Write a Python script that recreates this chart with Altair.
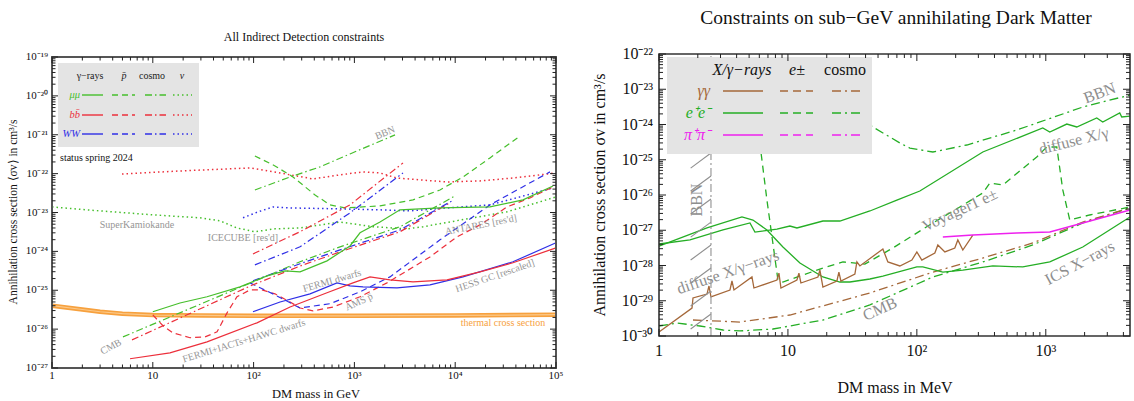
import altair as alt
import pandas as pd

SERIF = "Liberation Serif"
GREEN_L, RED_L, BLUE_L = "#46bf2c", "#ec2f3b", "#2f2fe6"
ORANGE = "#f7a13e"
GREEN_R, BROWN_R, MAG_R = "#25ae25", "#a5683a", "#ee22ee"
GRAY_T = "#959595"

# ================= LEFT PANEL (DM mass in GeV, <sigma v> in cm^3/s) =================
L_THERMAL_M = [1, 2, 3, 5, 10, 30, 100, 1000, 10000, 100000]
L_THERMAL_S = [4.0e-26, 3.2e-26, 2.8e-26, 2.5e-26, 2.3e-26, 2.25e-26, 2.2e-26, 2.2e-26, 2.25e-26, 2.35e-26]

L_NU_MUMU_M = [1, 3, 10, 29.4, 46.4, 68.4, 103, 163, 289, 720, 1530, 3325, 4795, 15020, 32660, 100000]
L_NU_MUMU_S = [1.39e-23, 1.10e-23, 8.7e-24, 7.3e-24, 6.1e-24, 4.0e-24, 3.2e-24, 3.8e-24, 4.0e-24, 5.7e-24,
               4.3e-24, 3.8e-24, 4.3e-24, 7.3e-24, 1.04e-23, 2.52e-23]
L_NU_BB_M = [4.95, 18.6, 92, 183, 388, 720, 1217, 1795, 2648, 8293, 17620, 37440, 100000]
L_NU_BB_S = [9.8e-23, 1.17e-22, 1.40e-22, 1.04e-22, 7.3e-23, 9.3e-23, 1.11e-22, 1.04e-22, 7.7e-23, 6.1e-23,
             6.5e-23, 7.7e-23, 1.04e-22]
L_NU_WW_M = [78.5, 111, 156, 230, 720, 1795, 3563, 8293, 22130, 43950, 93330]
L_NU_WW_S = [7.3e-24, 1.04e-23, 1.39e-23, 1.31e-23, 1.24e-23, 1.17e-23, 1.10e-23, 1.31e-23, 1.57e-23, 2.52e-23, 4.3e-23]

L_PB_MUMU_M = [103, 163, 246, 407, 573, 807, 1795, 3814, 7066, 11950, 22130, 43950]
L_PB_MUMU_S = [2.85e-22, 1.58e-22, 8.2e-23, 2.83e-23, 1.57e-23, 1.31e-23, 1.48e-23, 2.11e-23, 3.8e-23, 8.2e-23,
               2.54e-22, 9.3e-22]
L_PB_BB_M = [10, 12.6, 15.9, 23.4, 33, 43.4, 54.5, 68.4, 92, 121, 163, 230, 289, 388, 614, 1137, 2104, 5620,
             10420, 17620, 32660, 55210, 93330]
L_PB_BB_S = [2.33e-26, 1.22e-26, 8.0e-27, 6.0e-27, 6.3e-27, 8.5e-27, 2.62e-26, 6.8e-26, 1.02e-25, 1.02e-25,
             8.1e-26, 5.0e-26, 3.5e-26, 2.95e-26, 3.7e-26, 6.8e-26, 1.55e-25, 7.2e-25, 2.36e-24, 4.8e-24,
             1.39e-23, 2.37e-23, 4.55e-23]
L_PB_WW_M = [92, 163, 289, 573, 1137, 2254, 7066, 22130, 87100]
L_PB_WW_S = [1.55e-25, 7.6e-26, 3.5e-26, 4.5e-26, 9.1e-26, 2.21e-25, 1.98e-24, 1.57e-23, 1.11e-22]

L_BBN_MUMU_M = [103, 230, 456, 904, 2529]
L_BBN_MUMU_S = [3.8e-23, 8.2e-23, 1.49e-22, 3.21e-22, 9.9e-22]
L_CMB_MUMU_M = [5.06, 98.6, 289, 720, 2834, 9955]
L_CMB_MUMU_S = [6.3e-27, 1.64e-25, 5.4e-25, 1.31e-24, 4.3e-24, 2.67e-23]
L_CMB_BB_M = [6.22, 98.6, 289, 720, 2834, 8877]
L_CMB_BB_S = [5.3e-27, 1.38e-25, 4.2e-25, 9.7e-25, 3.2e-24, 1.77e-23]
L_CMB_WW_M = [98.6, 289, 720, 2834, 9290]
L_CMB_WW_S = [1.75e-25, 4.8e-25, 1.09e-24, 3.57e-24, 1.99e-23]
L_DD_BB_M = [98.6, 289, 904, 3034]
L_DD_BB_S = [8.6e-25, 3.2e-24, 1.57e-23, 1.88e-22]
L_DD_WW_M = [103, 289, 904, 3034]
L_DD_WW_S = [4.5e-25, 1.31e-24, 9.8e-24, 1.04e-22]

L_G_MUMU_M = [10, 18.6, 34.5, 73.3, 136, 205, 289, 535, 904, 1137, 1795, 2834, 7066, 22130, 47080, 93330]
L_G_MUMU_S = [2.79e-26, 4.7e-26, 6.8e-26, 1.22e-25, 2.34e-25, 3.15e-25, 2.97e-25, 5.7e-25, 1.38e-24, 3.0e-24,
              5.7e-24, 1.17e-23, 1.31e-23, 1.39e-23, 2.11e-23, 4.8e-23]
L_G_WW_M = [98.6, 183, 363, 672, 904, 1217, 2648, 5620, 11950, 37440, 100000]
L_G_WW_S = [2.79e-26, 5.0e-26, 8.1e-26, 1.55e-25, 1.30e-25, 1.22e-25, 1.15e-25, 1.38e-25, 2.21e-25, 5.4e-25, 1.66e-24]
L_G_BB_M = [5.94, 14.8, 34.5, 108, 230, 535, 968, 1429, 2254, 3814, 8293, 17620, 37440, 100000]
L_G_BB_S = [1.73e-27, 2.46e-27, 4.7e-27, 1.45e-26, 3.7e-26, 8.6e-26, 1.55e-25, 2.21e-25, 1.85e-25, 1.64e-25,
            1.85e-25, 2.97e-25, 5.1e-25, 1.23e-24]

L_ANN_TEXT = ["BBN", "SuperKamiokande", "ICECUBE [res'd]", "ANTARES [res'd]", "FERMI dwarfs", "AMS p\u0304",
              "HESS GC [rescaled]", "CMB", "FERMI+IACTs+HAWC dwarfs"]
L_ANN_M = [2014, 6.97, 78.5, 18030, 600, 1111, 24830, 3.85, 80.3]
L_ANN_S = [1.11e-21, 4.8e-24, 2.22e-24, 4.8e-24, 1.75e-25, 5.0e-26, 2.34e-25, 3.5e-27, 5.0e-27]
L_ANN_ANGLE = [338, 0, 0, 349, 344, 335, 341, 332, 343]
L_THERMAL_TEXT, L_THERMAL_TM, L_THERMAL_TS = "thermal cross section", 29800, 1.45e-26

L_X_TICKS = [1, 10, 100, 1000, 10000, 100000]
L_X_LABELS = ["1", "10", "10\u00b2", "10\u00b3", "10\u2074", "10\u2075"]
L_Y_TICKS = [1e-19, 1e-20, 1e-21, 1e-22, 1e-23, 1e-24, 1e-25, 1e-26, 1e-27]
L_Y_LABELS = ["10\u207b\u00b9\u2079", "10\u207b\u00b2\u2070", "10\u207b\u00b2\u00b9", "10\u207b\u00b2\u00b2",
              "10\u207b\u00b2\u00b3", "10\u207b\u00b2\u2074", "10\u207b\u00b2\u2075", "10\u207b\u00b2\u2076",
              "10\u207b\u00b2\u2077"]
L_X_MINOR = [k * 10 ** e for e in range(0, 5) for k in range(2, 10)]
L_Y_MINOR = [k * 10.0 ** e for e in range(-27, -19) for k in range(2, 10)]

# ================= RIGHT PANEL (DM mass in MeV) =================
R_X_EE1_M = [1, 1.739, 3.134, 5.076, 5.548, 8.217, 10.36, 11.74, 18.68, 25.30, 43.23, 69.98, 105.5, 324.8,
             947.8, 1074, 1455, 1739, 2485, 2766, 3747, 3883, 4500]
R_X_EE1_S = [4.07e-28, 5.3e-28, 1.02e-27, 1.61e-27, 8.9e-28, 1.08e-27, 1.32e-27, 1.16e-27, 1.83e-27, 1.83e-27,
             3.52e-27, 7.2e-27, 1.30e-26, 1.66e-25, 7.96e-25, 6.12e-25, 1.03e-24, 8.5e-25, 1.53e-24, 1.18e-24,
             2.12e-24, 1.63e-24, 1.74e-24]
R_X_EE2_M = [1, 2.356, 4.400, 5.354, 6.874, 9.147, 12.39, 18.68, 25.30, 30.24, 43.23, 54.51, 100, 111.3, 159.1,
             227.3, 388.2, 663.3, 1074, 1936, 4500]
R_X_EE2_S = [3.57e-28, 1.16e-27, 2.38e-27, 1.95e-27, 1.02e-27, 3.35e-28, 1.18e-28, 4.72e-29, 3.40e-29, 3.40e-29,
             4.14e-29, 5.0e-29, 9.1e-29, 9.1e-29, 6.5e-29, 7.4e-29, 9.7e-29, 9.1e-29, 1.26e-28, 3.35e-28, 2.38e-27]
R_E_EE_M = [5.750, 6.176, 6.874, 8.365, 9.147, 18.68, 26.70, 39.54, 65.16, 133.1, 215.4, 324.8, 368.1, 464.2,
            851.4, 1018, 1217, 1355, 1535, 2193, 4500]
R_E_EE_S = [1.53e-24, 1.66e-25, 7.2e-27, 3.88e-29, 3.40e-29, 8.5e-29, 1.26e-28, 1.10e-28, 3.14e-28, 1.61e-27,
            4.57e-27, 1.14e-26, 2.19e-26, 1.92e-26, 1.20e-25, 2.30e-25, 2.30e-25, 1.39e-26, 1.95e-27, 2.71e-27,
            4.57e-27]
R_BBN_EE_M = [36.15, 45.61, 73.82, 88.26, 133.1, 244.1, 596.0, 1936, 4500]
R_BBN_EE_S = [1.53e-24, 8.5e-25, 2.99e-25, 2.15e-25, 1.66e-25, 2.62e-25, 6.98e-25, 3.13e-24, 6.87e-24]
R_CMB_EE_M = [1, 1.379, 2.078, 3.134, 4.246, 7.651, 18.68, 43.23, 133.1, 324.8, 792.9, 1936, 4500]
R_CMB_EE_S = [1.92e-30, 2.34e-30, 1.92e-30, 1.48e-30, 1.39e-30, 1.58e-30, 2.84e-30, 7.6e-30, 4.72e-29, 1.26e-28,
              3.82e-28, 1.61e-27, 4.28e-27]
R_CMB_GG_M = [1.835, 4.246, 10.36, 43.23, 133.1, 324.8, 792.9, 1936, 4500]
R_CMB_GG_S = [2.84e-30, 2.49e-30, 3.94e-30, 1.66e-29, 6.5e-29, 1.63e-28, 4.35e-28, 1.71e-27, 4.28e-27]
R_X_GG_M = [1, 1.803, 1.835, 2.356, 2.441, 2.530, 3.551, 3.681, 3.815, 5.261, 5.449, 8.217, 8.516, 8.826,
            11.74, 12.17, 12.61, 17.09, 17.70, 18.68, 23.98, 24.85, 25.76, 33.07, 34.27, 36.15, 54.51, 59.6,
            73.82, 91.5, 100, 109.3, 137.9, 145.5, 164.9, 197.0, 207.9, 227.3, 271.8]
R_X_GG_S = [1.30e-30, 6.2e-30, 1.20e-29, 1.55e-29, 2.62e-29, 1.28e-29, 2.02e-29, 3.63e-29, 2.02e-29, 4.72e-29,
            2.30e-29, 3.88e-29, 6.1e-29, 2.30e-29, 3.88e-29, 6.1e-29, 3.19e-29, 4.72e-29, 7.4e-29, 2.45e-29,
            3.63e-29, 6.5e-29, 3.63e-29, 5.7e-29, 1.26e-28, 9.7e-29, 2.94e-28, 1.26e-28, 9.7e-29, 1.43e-28,
            2.42e-28, 1.43e-28, 2.26e-28, 3.82e-28, 2.42e-28, 3.14e-28, 5.3e-28, 2.75e-28, 7.3e-28]
R_X_PIPI_M = [159.1, 271.8, 596.0, 1074, 1936, 4500]
R_X_PIPI_S = [6.4e-28, 7.3e-28, 8.4e-28, 8.9e-28, 1.61e-27, 3.75e-27]

R_BBN_EDGE = 2.53
R_HATCH_M1, R_HATCH_M2 = 1.76, 2.53
R_HATCH_S1 = [2.6e-25, 5.8e-26, 1.30e-26, 2.89e-27, 6.4e-28, 1.43e-28, 3.19e-29, 7.1e-30, 1.58e-30]
R_HATCH_S2 = [6.9e-25, 1.55e-25, 3.46e-26, 7.7e-27, 1.70e-27, 3.80e-28, 8.5e-29, 1.89e-29, 4.2e-30]

R_ANN_TEXT = ["BBN", "diffuse X/\u03b3\u2212rays", "Voyager1 e\u00b1", "diffuse X/\u03b3", "BBN", "CMB",
              "ICS X\u2212rays"]
R_ANN_M = [1.971, 3.43, 215.4, 1648, 2623, 51.7, 1835]
R_ANN_S = [7.2e-27, 6.5e-29, 3.75e-27, 3.40e-25, 7.8e-24, 5.8e-30, 1.18e-28]
R_ANN_ANGLE = [270, 341, 335, 346, 340, 336, 332]

R_X_TICKS = [1, 10, 100, 1000]
R_X_LABELS = ["1", "10", "10\u00b2", "10\u00b3"]
R_Y_TICKS = [1e-22, 1e-23, 1e-24, 1e-25, 1e-26, 1e-27, 1e-28, 1e-29, 1e-30]
R_Y_LABELS = ["10\u207b\u00b2\u00b2", "10\u207b\u00b2\u00b3", "10\u207b\u00b2\u2074", "10\u207b\u00b2\u2075",
              "10\u207b\u00b2\u2076", "10\u207b\u00b2\u2077", "10\u207b\u00b2\u2078", "10\u207b\u00b2\u2079",
              "10\u207b\u00b3\u2070"]
R_X_MINOR = [k * 10 ** e for e in range(0, 4) for k in range(2, 10) if k * 10 ** e < 4500]
R_Y_MINOR = [k * 10.0 ** e for e in range(-30, -22) for k in range(2, 10)]

# ================= scales =================
SXL = alt.Scale(type="log", domain=[1, 1e5], range=[52, 556], nice=False)
SYL = alt.Scale(type="log", domain=[1e-27, 1e-19], range=[368, 57], nice=False)
SXR = alt.Scale(type="log", domain=[1, 4500], range=[659, 1130], nice=False)
SYR = alt.Scale(type="log", domain=[1e-30, 1e-22], range=[336, 54], nice=False)

ONE = pd.DataFrame({"k": [0]})


def series(m, s, xs, ys, color, dash=None, width=1.2):
    df = pd.DataFrame({"m": m, "s": s, "o": list(range(len(m)))})
    kw = dict(color=color, strokeWidth=width)
    if dash:
        kw["strokeDash"] = dash
    return alt.Chart(df).mark_line(**kw).encode(
        x=alt.X("m:Q", scale=xs, axis=None),
        y=alt.Y("s:Q", scale=ys, axis=None),
        order="o:Q")


def ptext(t, x, y, size, color="#000000", angle=0, align="center", baseline="middle", style="normal"):
    kw = dict(text=t, fontSize=size, color=color, align=align, baseline=baseline, font=SERIF, fontStyle=style)
    if angle:
        kw["angle"] = angle
    return alt.Chart(ONE).mark_text(**kw).encode(x=alt.value(x), y=alt.value(y))


def prule(x1, x2, y, color, dash=None, width=1.2):
    kw = dict(color=color, strokeWidth=width)
    if dash:
        kw["strokeDash"] = dash
    return alt.Chart(ONE).mark_rule(**kw).encode(x=alt.value(x1), x2=alt.value(x2), y=alt.value(y))


def prect(x1, x2, y1, y2, fill=None, stroke=None, sw=0):
    kw = dict(strokeWidth=sw)
    kw["fill"] = fill if fill else "transparent"
    if stroke:
        kw["stroke"] = stroke
    return alt.Chart(ONE).mark_rect(**kw).encode(x=alt.value(x1), x2=alt.value(x2), y=alt.value(y1),
                                                 y2=alt.value(y2))


def xticks(vals, xs, y0, ln, color, w=1):
    df = pd.DataFrame({"v": vals})
    return alt.Chart(df).mark_rule(color=color, strokeWidth=w).encode(
        x=alt.X("v:Q", scale=xs, axis=None), y=alt.value(y0), y2=alt.value(y0 + ln))


def yticks(vals, ys, x0, ln, color, w=1):
    df = pd.DataFrame({"v": vals})
    return alt.Chart(df).mark_rule(color=color, strokeWidth=w).encode(
        y=alt.Y("v:Q", scale=ys, axis=None), x=alt.value(x0), x2=alt.value(x0 + ln))


def ann(texts, ms, ss, angles, xs, ys, color, size):
    df = pd.DataFrame({"t": texts, "m": ms, "s": ss, "a": angles})
    return alt.Chart(df).mark_text(font=SERIF, fontSize=size, color=color).encode(
        x=alt.X("m:Q", scale=xs, axis=None), y=alt.Y("s:Q", scale=ys, axis=None),
        text="t:N", angle=alt.Angle("a:Q", scale=None))


# ---- left dash styles
DL, DDL, DOL = [6, 4], [7, 3, 1.5, 3], [1.5, 3]
L = []
L.append(series(L_THERMAL_M, L_THERMAL_S, SXL, SYL, ORANGE, width=4.5))
L.append(series(L_THERMAL_M, L_THERMAL_S, SXL, SYL, "#fbc98a", width=1.2))
L.append(series(L_NU_MUMU_M, L_NU_MUMU_S, SXL, SYL, GREEN_L, DOL, 1.5))
L.append(series(L_NU_BB_M, L_NU_BB_S, SXL, SYL, RED_L, DOL, 1.5))
L.append(series(L_NU_WW_M, L_NU_WW_S, SXL, SYL, BLUE_L, DOL, 1.5))
L.append(series(L_PB_MUMU_M, L_PB_MUMU_S, SXL, SYL, GREEN_L, DL))
L.append(series(L_PB_BB_M, L_PB_BB_S, SXL, SYL, RED_L, DL))
L.append(series(L_PB_WW_M, L_PB_WW_S, SXL, SYL, BLUE_L, DL))
L.append(series(L_BBN_MUMU_M, L_BBN_MUMU_S, SXL, SYL, GREEN_L, DDL))
L.append(series(L_CMB_MUMU_M, L_CMB_MUMU_S, SXL, SYL, GREEN_L, DDL))
L.append(series(L_CMB_BB_M, L_CMB_BB_S, SXL, SYL, RED_L, DDL))
L.append(series(L_CMB_WW_M, L_CMB_WW_S, SXL, SYL, BLUE_L, DDL))
L.append(series(L_DD_BB_M, L_DD_BB_S, SXL, SYL, RED_L, DDL))
L.append(series(L_DD_WW_M, L_DD_WW_S, SXL, SYL, BLUE_L, DDL))
L.append(series(L_G_MUMU_M, L_G_MUMU_S, SXL, SYL, GREEN_L))
L.append(series(L_G_WW_M, L_G_WW_S, SXL, SYL, BLUE_L))
L.append(series(L_G_BB_M, L_G_BB_S, SXL, SYL, RED_L))
L.append(ann(L_ANN_TEXT, L_ANN_M, L_ANN_S, L_ANN_ANGLE, SXL, SYL, GRAY_T, 10))
L.append(ann([L_THERMAL_TEXT], [L_THERMAL_TM], [L_THERMAL_TS], [0], SXL, SYL, ORANGE, 10))
# frame + inward ticks
TC = "#222222"
L.append(prect(52, 556, 57, 368, stroke="#555555", sw=2))
for vals, ln in ((L_X_TICKS, 6), (L_X_MINOR, 3.5)):
    L.append(xticks(vals, SXL, 368, -ln, TC))
    L.append(xticks(vals, SXL, 57, ln, TC))
for vals, ln in ((L_Y_TICKS, 6), (L_Y_MINOR, 3.5)):
    L.append(yticks(vals, SYL, 52, ln, TC))
    L.append(yticks(vals, SYL, 556, -ln, TC))
L.append(alt.Chart(pd.DataFrame({"v": L_X_TICKS, "t": L_X_LABELS})).mark_text(
    font=SERIF, fontSize=11, baseline="top", color="#111").encode(
    x=alt.X("v:Q", scale=SXL, axis=None), y=alt.value(370), text="t:N"))
L.append(alt.Chart(pd.DataFrame({"v": L_Y_TICKS, "t": L_Y_LABELS})).mark_text(
    font=SERIF, fontSize=11, align="right", baseline="middle", color="#111").encode(
    y=alt.Y("v:Q", scale=SYL, axis=None), x=alt.value(48), text="t:N"))
# legend box (left)
L.append(prect(58, 199, 63, 147, fill="#e4e4e4"))
for t, x, st in (("\u03b3\u2212rays", 90, "normal"), ("p\u0304", 124, "italic"), ("cosmo", 152, "normal"),
                 ("\u03bd", 182, "italic")):
    L.append(ptext(t, x, 76, 10, "#222", style=st))
for lab, col, y in (("\u03bc\u03bc", GREEN_L, 95), ("bb\u0304", RED_L, 115), ("WW", BLUE_L, 134)):
    L.append(ptext(lab, 80, y, 10.5, col, align="right", style="italic"))
    L.append(prule(82, 103, y, col, width=1.4))
    L.append(prule(112, 135, y, col, DL, 1.4))
    L.append(prule(145, 166, y, col, DDL, 1.4))
    L.append(prule(173, 192, y, col, DOL, 1.6))
L.append(ptext("status spring 2024", 60, 158, 10, "#111", align="left"))
L.append(ptext("All Indirect Detection constraints", 304, 37, 12, "#111"))
L.append(ptext("DM mass in GeV", 316, 394, 12.5, "#111"))
L.append(ptext("Annihilation cross section \u27e8\u03c3v\u27e9 in cm\u00b3/s", 14, 212, 11.5, "#111", angle=270))

# ---- right panel
DR, DDR = [7, 5], [9, 4, 2, 4]
R = []
R.append(series(R_CMB_EE_M, R_CMB_EE_S, SXR, SYR, GREEN_R, DDR, 1.3))
R.append(series(R_CMB_GG_M, R_CMB_GG_S, SXR, SYR, BROWN_R, DDR, 1.3))
R.append(series(R_BBN_EE_M, R_BBN_EE_S, SXR, SYR, GREEN_R, DDR, 1.3))
R.append(series(R_E_EE_M, R_E_EE_S, SXR, SYR, GREEN_R, DR, 1.3))
R.append(series(R_X_EE1_M, R_X_EE1_S, SXR, SYR, GREEN_R, width=1.3))
R.append(series(R_X_EE2_M, R_X_EE2_S, SXR, SYR, GREEN_R, width=1.3))
R.append(series(R_X_GG_M, R_X_GG_S, SXR, SYR, BROWN_R, width=1.3))
R.append(series(R_X_PIPI_M, R_X_PIPI_S, SXR, SYR, MAG_R, width=1.5))
# BBN-excluded band: diagonal hatching, one short segment per hatch line
for s1, s2 in zip(R_HATCH_S1, R_HATCH_S2):
    R.append(series([R_HATCH_M1, R_HATCH_M2], [s1, s2], SXR, SYR, "#8f8f8f", width=1.1))
R.append(alt.Chart(pd.DataFrame({"m": [R_BBN_EDGE], "s1": [1e-30], "s2": [1e-22]})).mark_rule(
    color="#9a9a9a", strokeWidth=1.2, strokeDash=[8, 3, 2, 3]).encode(
    x=alt.X("m:Q", scale=SXR, axis=None), y=alt.Y("s1:Q", scale=SYR, axis=None), y2="s2:Q"))
R.append(ann(R_ANN_TEXT, R_ANN_M, R_ANN_S, R_ANN_ANGLE, SXR, SYR, "#8e8e8e", 16))
# legend box (right), drawn over the curves
R.append(prect(667, 872, 57, 154, fill="#e4e4e4"))
R.append(ptext("X/\u03b3\u2212rays", 742, 70, 16, "#111", style="italic"))
R.append(ptext("e\u00b1", 797, 70, 16, "#111", style="italic"))
R.append(ptext("cosmo", 845, 70, 16, "#111"))
for lab, col, y in (("\u03b3\u03b3", BROWN_R, 91), ("e\u207ae\u207b", GREEN_R, 113),
                    ("\u03c0\u207a\u03c0\u207b", MAG_R, 135)):
    R.append(ptext(lab, 710, y, 16, col, align="right", style="italic"))
    R.append(prule(723, 763, y, col, width=1.3))
    R.append(prule(780, 813, y, col, [8, 5], 1.3))
    R.append(prule(832, 863, y, col, DDR, 1.3))
R.append(prect(659, 1130, 54, 336, stroke="#333333", sw=1.6))
for vals, ln in ((R_X_TICKS, 7), (R_X_MINOR, 4)):
    R.append(xticks(vals, SXR, 336, -ln, TC))
    R.append(xticks(vals, SXR, 54, ln, TC))
for vals, ln in ((R_Y_TICKS, 7), (R_Y_MINOR, 4)):
    R.append(yticks(vals, SYR, 659, ln, TC))
    R.append(yticks(vals, SYR, 1130, -ln, TC))
R.append(alt.Chart(pd.DataFrame({"v": R_X_TICKS, "t": R_X_LABELS})).mark_text(
    font=SERIF, fontSize=16, baseline="top", color="#111").encode(
    x=alt.X("v:Q", scale=SXR, axis=None), y=alt.value(343), text="t:N"))
R.append(alt.Chart(pd.DataFrame({"v": R_Y_TICKS, "t": R_Y_LABELS})).mark_text(
    font=SERIF, fontSize=16, align="right", baseline="middle", color="#111").encode(
    y=alt.Y("v:Q", scale=SYR, axis=None), x=alt.value(653), text="t:N"))
R.append(ptext("Constraints on sub\u2212GeV annihilating Dark Matter", 896, 18, 19.5, "#111"))
R.append(ptext("DM mass in MeV", 895, 388, 16, "#111"))
R.append(ptext("Annihilation cross section \u03c3v in cm\u00b3/s", 600, 195, 16, "#111", angle=270))

left = alt.layer(*L)
right = alt.layer(*R)
chart = alt.layer(left, right).resolve_scale(x="independent", y="independent").properties(
    width=1134, height=401, padding=0, autosize=alt.AutoSizeParams(type="none")
).configure_view(strokeWidth=0)

chart.save("out.html", embed_options={"renderer": "svg", "actions": False})
